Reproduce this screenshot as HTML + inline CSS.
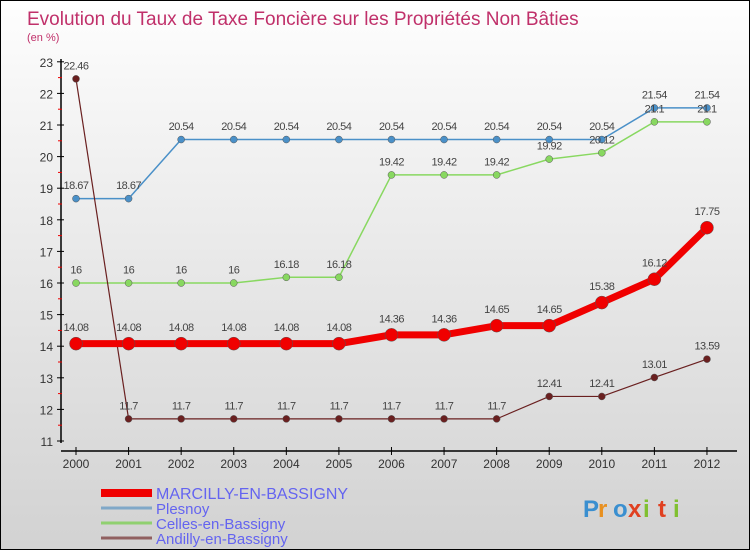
<!DOCTYPE html>
<html><head><meta charset="utf-8"><style>
body{margin:0}
#c{width:750px;height:550px;position:relative;box-sizing:border-box;border:1px solid #000;background:linear-gradient(#fefefe,#f0f0f0 30%,#d2d2d2);font-family:"Liberation Sans",sans-serif;overflow:hidden}
</style></head><body>
<div id="c">
<svg id="s" width="750" height="550" style="position:absolute;left:0;top:0"></svg>
</div>
<script>
const years=[2000,2001,2002,2003,2004,2005,2006,2007,2008,2009,2010,2011,2012];
const marcilly=[14.08,14.08,14.08,14.08,14.08,14.08,14.36,14.36,14.65,14.65,15.38,16.12,17.75];
const plesnoy=[18.67,18.67,20.54,20.54,20.54,20.54,20.54,20.54,20.54,20.54,20.54,21.54,21.54];
const celles=[16,16,16,16,16.18,16.18,19.42,19.42,19.42,19.92,20.12,21.1,21.1];
const andilly=[22.46,11.7,11.7,11.7,11.7,11.7,11.7,11.7,11.7,12.41,12.41,13.01,13.59];
const yTicks=[11,12,13,14,15,16,17,18,19,20,21,22,23];
const seriesNames=["MARCILLY-EN-BASSIGNY","Plesnoy","Celles-en-Bassigny","Andilly-en-Bassigny"];
const NS="http://www.w3.org/2000/svg",s=document.getElementById('s');
const X=i=>75+i*52.58, Y=v=>440-(v-11)*31.6;
function el(t,a,p){const e=document.createElementNS(NS,t);for(const k in a)e.setAttribute(k,a[k]);(p||s).appendChild(e);return e;}
function tx(x,y,str,a){const e=el('text',Object.assign({x:x,y:y},a));e.textContent=str;return e;}
const title=tx(26,24,"Evolution du Taux de Taxe Foncière sur les Propriétés Non Bâties",{fill:"#c0306a","font-size":19});


const sub=tx(26,40,"(en %)",{fill:"#c0306a","font-size":11});


const ya=el('line',{x1:60,y1:58,x2:60,y2:442,stroke:"#000","stroke-width":1.5});


yTicks.forEach(v=>{el('line',{x1:56,x2:63,y1:Y(v),y2:Y(v),stroke:"#000"});
 if(v<23)el('line',{x1:57,x2:61,y1:Y(v+0.5),y2:Y(v+0.5),stroke:"#e00"});
 const t=tx(52,Y(v)+5,String(v),{"text-anchor":"end","font-size":12,fill:"#333"});
 
 });
const xa=el('line',{x1:60,y1:450,x2:736,y2:450,stroke:"#000","stroke-width":1.5});


years.forEach((yr,i)=>{el('line',{x1:X(i),x2:X(i),y1:446,y2:454,stroke:"#000"});
 const t=tx(X(i),467,String(yr),{"text-anchor":"middle","font-size":12,fill:"#333"});
 
 });
function series(data,color,w,r,name){
 const g=el('g',{});
 
 
 el('polyline',{points:data.map((v,i)=>X(i)+","+Y(v)).join(" "),fill:"none",stroke:color,"stroke-width":w,"stroke-linejoin":"round"},g);
 data.forEach((v,i)=>{const c=el('circle',{cx:X(i),cy:Y(v),r:r,fill:color,stroke:"#555","stroke-width":0.5},g);
  
  
  const t=tx(X(i),Y(v)-r-6,String(v),{"text-anchor":"middle","font-size":11,fill:"#444","letter-spacing":"-0.5"},g);
  
  });
}
series(plesnoy,"#4a90c8",1.5,3.5,"series-plesnoy");
series(celles,"#88d860",1.5,3.5,"series-celles");
series(andilly,"#6a2020",1.2,3.5,"series-andilly");
series(marcilly,"#f00000",7,6.5,"series-marcilly");
const cols=["#f00000","#80a8c8","#90d070","#906060"],ws=[8,3,3,3];
seriesNames.forEach((n,i)=>{const y=492+i*15;
 const g=el('g',{});
 
 
 el('line',{x1:100,x2:151,y1:y,y2:y,stroke:cols[i],"stroke-width":ws[i]},g);
 tx(155,y+6,n,{"font-size":i==0?16:15,fill:"#6464f0"},g);});
const lg=el('g',{});


const lc=["#3a8fd0","#e89020","#3a8fd0","#e04020","#80c030","#e04020","#80c030"];
"Proxiti".split("").forEach((ch,i)=>tx(582+i*15,516,ch,{"font-size":24,"font-weight":"bold",fill:lc[i]},lg));
</script>
</body></html>
